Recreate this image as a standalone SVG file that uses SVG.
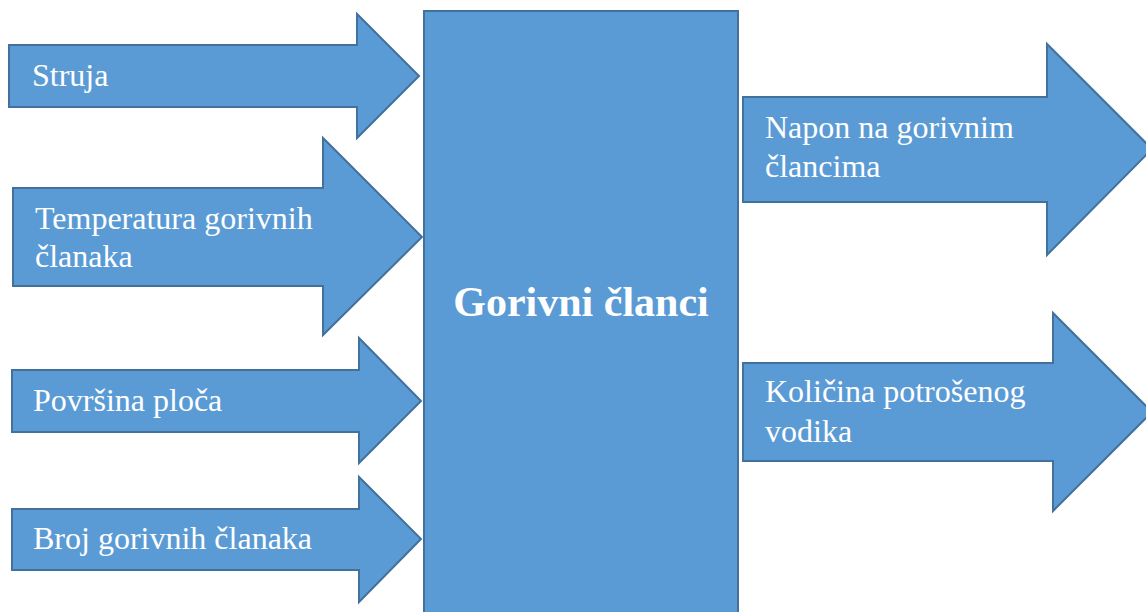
<svg xmlns="http://www.w3.org/2000/svg" width="1146" height="612" viewBox="0 0 1146 612">
<style>
.shape{fill:#5B9BD5;stroke:#41719C;stroke-width:2;stroke-linejoin:miter}
.lbl{font-size:32px;fill:#FFFFFF}
.title{font-size:42px;font-weight:bold;fill:#FFFFFF}
</style>
<rect width="1146" height="612" fill="#FFFFFF"/>
<g id="connectors"></g>
<g font-family="'Liberation Serif', 'Times New Roman', Times, serif">
<g id="struja">
<polygon class="shape" points="9,45 357,45 357,14 419,76 357,138 357,107 9,107"/>
<text class="lbl" x="32" y="86">Struja</text>
</g>
<g id="temperatura">
<polygon class="shape" points="13,188 323,188 323,138 422,237 323,335 323,286 13,286"/>
<text class="lbl" x="35" y="229">Temperatura gorivnih</text>
<text class="lbl" x="35" y="267">članaka</text>
</g>
<g id="povrsina">
<polygon class="shape" points="12,370 359,370 359,338 421,401 359,463 359,432 12,432"/>
<text class="lbl" x="33" y="411">Površina ploča</text>
</g>
<g id="broj">
<polygon class="shape" points="12,509 359,509 359,477 421,539 359,602 359,570 12,570"/>
<text class="lbl" x="33" y="549">Broj gorivnih članaka</text>
</g>
<g id="gorivni">
<rect class="shape" x="424" y="11" width="314" height="612"/>
<text class="title" x="581" y="316" text-anchor="middle">Gorivni članci</text>
</g>
<g id="napon">
<polygon class="shape" points="743,97 1047,97 1047,44 1152,149 1047,255 1047,202 743,202"/>
<text class="lbl" x="765" y="138">Napon na gorivnim</text>
<text class="lbl" x="765" y="177">člancima</text>
</g>
<g id="kolicina">
<polygon class="shape" points="743,363 1053,363 1053,313 1152,412 1053,511 1053,461 743,461"/>
<text class="lbl" x="765" y="402">Količina potrošenog</text>
<text class="lbl" x="765" y="442">vodika</text>
</g>
</g>
</svg>
